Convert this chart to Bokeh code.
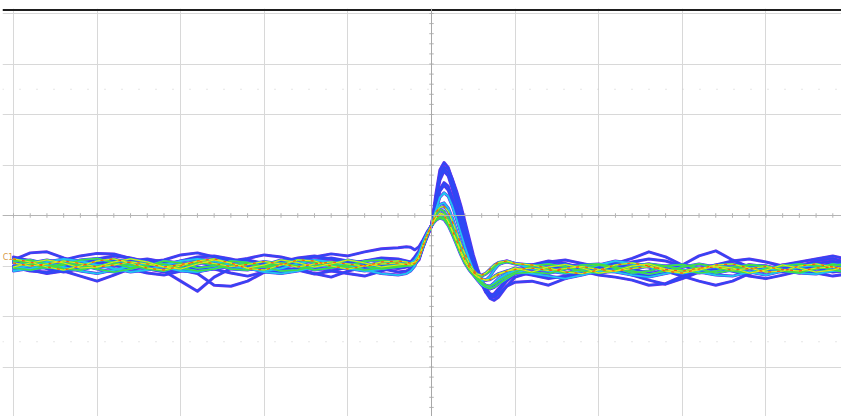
import numpy as np
from bokeh.plotting import figure
from bokeh.models import Span, FixedTicker, Range1d, ColumnDataSource, Label
from bokeh.embed import file_html
from bokeh.resources import INLINE

# ---- time axis (divisions from trigger) ----
t_left = [-5.0, -4.8, -4.6, -4.4, -4.2, -4.0, -3.8, -3.6, -3.4, -3.2, -3.0, -2.8,
          -2.6, -2.4, -2.2, -2.0, -1.8, -1.6, -1.4, -1.2, -1.0, -0.8, -0.6, -0.4]
t_pulse = [-0.3, -0.25, -0.2, -0.15, -0.1, -0.05, 0.0, 0.05, 0.1, 0.15, 0.2, 0.25, 0.3,
           0.35, 0.4, 0.45, 0.5, 0.55, 0.6, 0.65, 0.7, 0.75, 0.8, 0.9, 1.0]
t_right = [1.2, 1.4, 1.6, 1.8, 2.0, 2.2, 2.4, 2.6, 2.8, 3.0, 3.2, 3.4, 3.6, 3.8, 4.0,
           4.2, 4.4, 4.6, 4.8, 5.0]
time = t_left + t_pulse + t_right

tr0 = ([-0.88, -0.74, -0.72, -0.84, -0.95, -1.02, -0.98, -0.9, -0.86, -0.92, -1.0, -1.05,
        -0.98, -0.9, -0.88, -0.95, -1.02, -0.96, -0.88, -0.84, -0.9, -0.98, -1.0, -0.96]
       + [-0.95, -0.97, -0.96, -0.88, -0.62, -0.4, -0.2, 0.4, 0.9, 1.05, 0.95, 0.7, 0.43,
          0.16, -0.2, -0.55, -0.85, -1.09, -1.3, -1.52, -1.64, -1.68, -1.62, -1.4, -1.22]
       + [-1.12, -1.05, -0.98, -1.0, -1.08, -0.95, -0.85, -0.72, -0.82, -0.98, -1.1, -1.15,
          -1.05, -0.98, -1.02, -1.1, -1.05, -0.95, -0.9, -1.0])
tr1 = ([-1.0, -1.08, -1.15, -1.1, -1.2, -1.3, -1.18, -1.05, -1.0, -1.1, -1.3, -1.5,
        -1.22, -1.05, -1.0, -1.08, -1.12, -1.05, -1.15, -1.22, -1.1, -1.02, -1.05, -1.12]
       + [-1.1, -1.05, -0.98, -0.85, -0.62, -0.42, -0.2, 0.3, 0.78, 0.92, 0.85, 0.6, 0.32,
          0.02, -0.3, -0.62, -0.9, -1.12, -1.3, -1.48, -1.6, -1.62, -1.55, -1.4, -1.32]
       + [-1.3, -1.38, -1.25, -1.12, -1.0, -0.95, -1.05, -1.15, -1.1, -0.98, -0.8, -0.7,
          -0.88, -1.02, -1.1, -1.05, -0.98, -1.05, -1.12, -1.08])
tr2 = ([-0.92, -0.98, -1.05, -1.12, -1.05, -0.95, -0.88, -0.95, -1.05, -1.12, -1.08, -1.15,
        -1.38, -1.4, -1.3, -1.12, -1.0, -0.95, -1.02, -1.1, -1.15, -1.2, -1.1, -1.0]
       + [-0.98, -0.92, -0.82, -0.7, -0.52, -0.35, -0.22, 0.25, 0.7, 0.88, 0.78, 0.52, 0.22,
          -0.08, -0.4, -0.7, -0.95, -1.18, -1.36, -1.52, -1.58, -1.55, -1.45, -1.28, -1.15]
       + [-1.02, -0.95, -1.0, -1.1, -1.18, -1.22, -1.28, -1.38, -1.35, -1.2, -1.08, -1.0,
          -0.95, -1.0, -1.08, -1.12, -1.0, -0.9, -0.85, -0.95])
tr3 = ([-0.82, -0.9, -0.95, -0.88, -0.8, -0.75, -0.76, -0.85, -0.92, -0.88, -0.78, -0.74,
        -0.82, -0.9, -0.85, -0.78, -0.82, -0.9, -0.82, -0.76, -0.8, -0.72, -0.66, -0.64]
       + [-0.62, -0.63, -0.68, -0.62, -0.48, -0.32, -0.2, 0.15, 0.52, 0.65, 0.58, 0.35, 0.08,
          -0.2, -0.48, -0.75, -0.98, -1.18, -1.32, -1.42, -1.45, -1.4, -1.32, -1.2, -1.1]
       + [-1.0, -0.92, -0.88, -0.95, -1.02, -1.1, -1.15, -1.2, -1.1, -1.2, -1.3, -1.38,
          -1.3, -1.15, -1.05, -0.98, -0.92, -0.86, -0.8, -0.88])
tr4 = ([-1.05, -1.0, -0.92, -0.86, -0.9, -0.98, -1.05, -1.12, -1.08, -0.98, -0.9, -0.86,
        -0.9, -0.98, -1.05, -1.1, -1.05, -0.95, -0.88, -0.92, -1.0, -1.08, -1.15, -1.18]
       + [-1.15, -1.1, -1.0, -0.8, -0.55, -0.35, -0.2, 0.1, 0.36, 0.45, 0.38, 0.18, -0.08,
          -0.35, -0.62, -0.86, -1.08, -1.22, -1.3, -1.28, -1.2, -1.08, -0.98, -0.9, -0.95]
       + [-1.05, -1.1, -1.15, -1.08, -0.98, -0.9, -0.95, -1.02, -1.1, -1.15, -1.08, -1.0,
          -1.05, -1.12, -1.18, -1.1, -1.02, -0.98, -1.02, -1.1])
tr5 = ([-0.88, -0.96, -1.04, -0.98, -0.88, -0.85, -0.94, -1.04, -1.0, -0.9, -0.94, -1.04,
        -1.0, -0.9, -0.93, -1.02, -0.98, -0.88, -0.92, -1.02, -1.0, -0.9, -0.88, -0.95]
       + [-0.98, -1.0, -0.96, -0.85, -0.62, -0.4, -0.2, 0.02, 0.12, 0.08, -0.05, -0.25, -0.45,
          -0.66, -0.85, -1.0, -1.12, -1.18, -1.2, -1.16, -1.1, -1.02, -0.96, -0.92, -0.96]
       + [-0.98, -1.06, -1.14, -1.06, -0.98, -1.04, -1.14, -1.1, -1.0, -0.97, -1.05, -1.14,
          -1.08, -0.98, -1.0, -1.1, -1.14, -1.04, -0.96, -1.02])
tr6 = ([-1.02, -0.94, -0.88, -0.94, -1.04, -1.02, -0.92, -0.86, -0.92, -1.02, -1.06, -0.96,
        -0.88, -0.94, -1.04, -0.98, -0.88, -0.93, -1.02, -0.96, -0.88, -0.94, -1.02, -0.98]
       + [-0.96, -0.95, -0.92, -0.8, -0.58, -0.38, -0.2, -0.05, 0.05, 0.02, -0.12, -0.32, -0.52,
          -0.74, -0.92, -1.05, -1.15, -1.22, -1.26, -1.28, -1.26, -1.2, -1.15, -1.1, -1.04]
       + [-1.12, -1.02, -0.97, -1.04, -1.14, -1.1, -1.0, -0.96, -1.06, -1.14, -1.08, -1.0,
          -1.04, -1.14, -1.08, -0.98, -1.04, -1.12, -1.08, -1.0])
tr7 = ([-0.94, -1.0, -0.96, -0.9, -0.95, -1.02, -0.98, -0.92, -0.96, -1.02, -0.97, -0.91,
        -0.95, -1.01, -0.97, -0.91, -0.96, -1.02, -0.96, -0.92, -0.96, -1.0, -0.96, -0.94]
       + [-0.97, -0.98, -0.95, -0.85, -0.6, -0.38, -0.2, -0.05, 0.02, 0.0, -0.12, -0.3, -0.5,
          -0.7, -0.88, -1.02, -1.12, -1.2, -1.25, -1.28, -1.27, -1.22, -1.17, -1.1, -1.07]
       + [-1.04, -1.09, -1.05, -1.01, -1.07, -1.1, -1.05, -1.01, -1.07, -1.1, -1.04, -1.02,
          -1.08, -1.05, -1.01, -1.07, -1.1, -1.04, -1.02, -1.07])
tr8 = ([-0.9, -0.88, -0.96, -1.06, -1.08, -1.0, -0.94, -0.98, -1.06, -1.1, -1.0, -0.93,
        -0.97, -1.06, -1.08, -1.0, -0.94, -1.0, -1.08, -1.04, -0.97, -1.0, -1.06, -1.02]
       + [-1.0, -0.98, -0.93, -0.82, -0.56, -0.36, -0.2, -0.1, -0.05, -0.08, -0.2, -0.38, -0.58,
          -0.78, -0.95, -1.08, -1.18, -1.28, -1.36, -1.42, -1.45, -1.42, -1.36, -1.25, -1.15]
       + [-1.12, -1.15, -1.06, -0.98, -0.96, -1.02, -1.1, -1.16, -1.1, -1.02, -0.96, -1.02,
          -1.1, -1.14, -1.06, -1.0, -0.96, -1.0, -1.08, -1.14])
tr9 = ([-1.1, -1.05, -0.98, -1.02, -1.1, -1.15, -1.08, -1.0, -0.96, -1.02, -1.1, -1.12,
        -1.05, -1.0, -1.04, -1.12, -1.15, -1.1, -1.02, -0.98, -1.05, -1.1, -1.06, -1.0]
       + [-0.98, -0.94, -0.88, -0.75, -0.52, -0.34, -0.2, 0.05, 0.22, 0.25, 0.15, -0.05, -0.3,
          -0.55, -0.78, -0.98, -1.15, -1.28, -1.38, -1.42, -1.4, -1.33, -1.25, -1.15, -1.1]
       + [-1.15, -1.2, -1.25, -1.18, -1.1, -1.12, -1.18, -1.22, -1.15, -1.08, -1.12, -1.18,
          -1.2, -1.12, -1.05, -1.08, -1.14, -1.16, -1.1, -1.05])
tr10 = ([-0.85, -0.9, -0.98, -1.02, -0.96, -0.86, -0.8, -0.84, -0.92, -0.98, -0.9, -0.82,
         -0.8, -0.86, -0.94, -1.0, -0.92, -0.84, -0.8, -0.86, -0.94, -0.9, -0.84, -0.86]
        + [-0.9, -0.92, -0.9, -0.8, -0.58, -0.38, -0.2, 0.3, 0.82, 0.96, 0.92, 0.72, 0.48,
           0.2, -0.12, -0.45, -0.78, -1.05, -1.28, -1.45, -1.55, -1.58, -1.5, -1.3, -1.15]
        + [-0.98, -0.9, -0.95, -1.05, -1.12, -1.05, -0.92, -0.86, -0.9, -1.0, -1.05, -0.98,
           -0.9, -0.86, -0.92, -1.0, -1.08, -1.02, -0.94, -0.9])
tr11 = ([-1.02, -1.1, -1.12, -1.05, -0.96, -0.92, -0.98, -1.06, -1.14, -1.18, -1.1, -1.02,
         -1.06, -1.14, -1.2, -1.12, -1.04, -1.08, -1.16, -1.1, -1.02, -0.98, -1.02, -1.05]
        + [-1.02, -1.0, -0.95, -0.82, -0.58, -0.36, -0.2, 0.12, 0.48, 0.6, 0.5, 0.28, 0.02,
           -0.26, -0.55, -0.82, -1.05, -1.22, -1.35, -1.42, -1.45, -1.42, -1.35, -1.22, -1.12]
        + [-1.18, -1.25, -1.2, -1.1, -1.02, -1.08, -1.18, -1.28, -1.36, -1.25, -1.12, -1.06,
           -1.1, -1.2, -1.25, -1.18, -1.1, -1.14, -1.2, -1.15])
tr12 = ([-0.86, -0.92, -1.02, -1.08, -1.0, -0.9, -0.86, -0.94, -1.04, -1.08, -1.0, -0.9,
         -0.86, -0.94, -1.05, -1.08, -0.98, -0.88, -0.9, -1.0, -1.06, -1.0, -0.92, -0.9]
        + [-0.92, -0.95, -0.93, -0.84, -0.6, -0.38, -0.2, 0.06, 0.16, 0.18, 0.08, -0.12, -0.34,
           -0.56, -0.76, -0.94, -1.08, -1.16, -1.18, -1.14, -1.06, -0.98, -0.93, -0.9, -0.95]
        + [-0.98, -1.04, -1.12, -1.15, -1.08, -0.98, -0.94, -1.0, -1.1, -1.14, -1.06, -0.98,
           -0.96, -1.04, -1.12, -1.1, -1.0, -0.96, -1.02, -1.1])
tr13 = ([-1.04, -1.08, -1.02, -0.95, -0.98, -1.06, -1.12, -1.06, -0.98, -0.96, -1.04, -1.1,
         -1.06, -0.98, -0.95, -1.02, -1.1, -1.08, -1.0, -0.96, -1.02, -1.08, -1.04, -1.0]
        + [-0.99, -0.97, -0.94, -0.84, -0.6, -0.38, -0.2, -0.08, -0.02, -0.05, -0.16, -0.34,
           -0.54, -0.74, -0.92, -1.06, -1.16, -1.24, -1.32, -1.38, -1.4, -1.36, -1.3, -1.2, -1.12]
        + [-1.0, -0.96, -1.02, -1.1, -1.14, -1.08, -1.0, -0.96, -1.0, -1.08, -1.14, -1.1,
           -1.02, -0.98, -1.0, -1.08, -1.12, -1.06, -0.98, -0.96])
traces = [tr0, tr1, tr2, tr3, tr4, tr5, tr6, tr7, tr8, tr9, tr10, tr11, tr12, tr13]

# graticule
x_grid_ticks = [-5, -4, -3, -2, -1, 0, 1, 2, 3, 4, 5]
y_grid_ticks = [-4, -3, -2, -1, 0, 1, 2, 3, 4]

p = figure(width=841, height=416, output_backend="svg", toolbar_location=None,
           x_range=Range1d(-5.1316, 4.904), y_range=Range1d(-3.98, 4.099),
           x_axis_location=None, y_axis_location=None,
           min_border_left=2, min_border_right=0, min_border_top=8, min_border_bottom=0)
p.outline_line_color = None
p.background_fill_color = "white"
p.border_fill_color = "white"

p.xgrid.ticker = FixedTicker(ticks=x_grid_ticks)
p.ygrid.ticker = FixedTicker(ticks=y_grid_ticks)
for g in (p.xgrid, p.ygrid):
    g.grid_line_color = "#d8d8d8"
    g.grid_line_width = 1

for yd in (2.5, -2.5):
    p.add_layout(Span(location=yd, dimension="width", line_color="#cdcdcd",
                      line_width=1, line_dash="1 16"))

p.add_layout(Span(location=4.069, dimension="width", line_color="#1e1e1e", line_width=2))

# centre cross with fine tick marks
p.add_layout(Span(location=0, dimension="width", line_color="#b4b4b4", line_width=1))
p.add_layout(Span(location=0, dimension="height", line_color="#a8a8a8", line_width=1))
fine_x = [round(v, 1) for v in np.arange(-5.0, 5.01, 0.2)]
fine_y = [round(v, 1) for v in np.arange(-4.0, 4.01, 0.2)]
p.segment(x0=fine_x, y0=[-0.045] * len(fine_x), x1=fine_x, y1=[0.045] * len(fine_x),
          line_color="#b4b4b4", line_width=1)
p.segment(x0=[-0.027] * len(fine_y), y0=fine_y, x1=[0.027] * len(fine_y), y1=fine_y,
          line_color="#b4b4b4", line_width=1)

# persistence colouring: layered by trace density
allt = list(range(len(traces)))
layers = [
    (allt, "#6e2fe8", 3.0, "solid"),
    (allt, "#2f48f5", 1.8, "solid"),
    ([4, 5, 6, 7, 8, 9, 12, 13], "#22c4f0", 1.9, "solid"),
    ([5, 6, 7, 8, 12, 13], "#46dc3c", 1.4, "solid"),
    ([6, 7, 12], "#eee21e", 1.0, "solid"),
    ([7, 12], "#ff5010", 1.2, "2 7"),
]
for idx, col, w, dash in layers:
    src = ColumnDataSource(dict(xs=[time for _ in idx], ys=[traces[i] for i in idx]))
    p.multi_line("xs", "ys", source=src, line_color=col, line_width=w,
                 line_dash=dash, line_join="round", line_cap="round")

p.add_layout(Label(x=-5.13, y=-0.93, text="C1", text_color="#d89a48",
                   text_font_size="8px", text_font="DejaVu Sans", text_baseline="bottom"))

open("out.html", "w").write(file_html(p, INLINE))
